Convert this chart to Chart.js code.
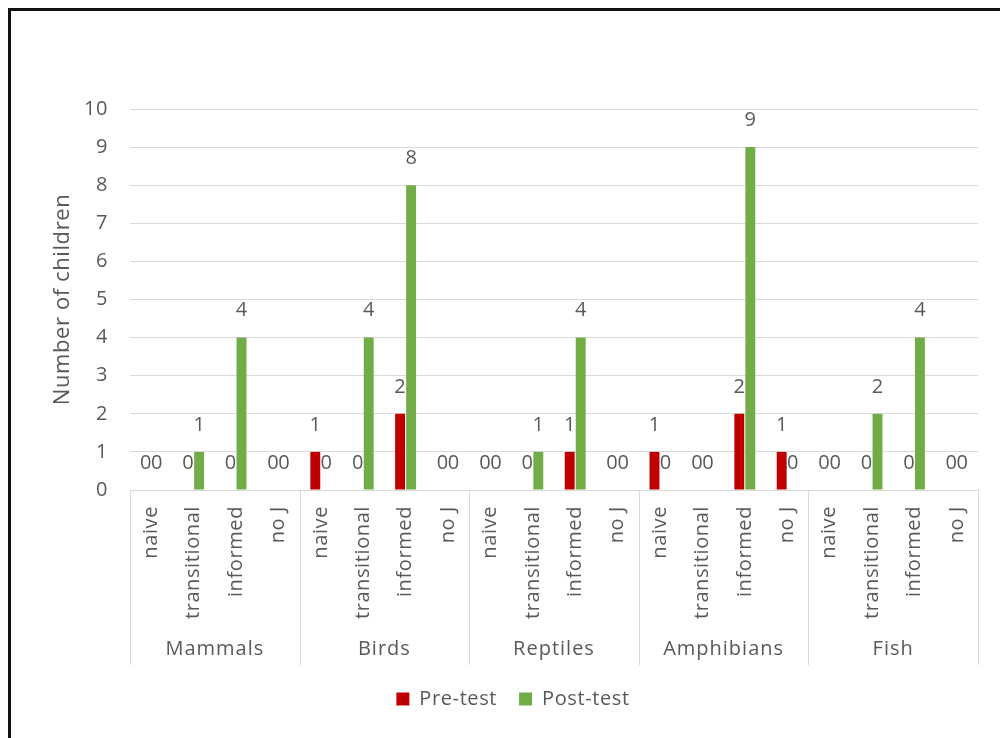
<!DOCTYPE html>
<html>
<head>
<meta charset="utf-8">
<script src="https://cdn.jsdelivr.net/npm/chart.js@4.4.1/dist/chart.umd.min.js"></script>
<style>
  html, body { margin: 0; padding: 0; background: #fff; }
  #wrap { position: relative; width: 1000px; height: 738px; overflow: hidden; }
  #c { position: absolute; left: 0; top: 0; }
  #frame { position: absolute; left: 8px; top: 8px; width: 1100px; height: 800px;
           border-top: 3px solid #111; border-left: 3px solid #111; pointer-events: none; }
</style>
</head>
<body>
<div id="wrap">
  <canvas id="c" width="1000" height="738"></canvas>
  <div id="frame"></div>
</div>
<script>
const groups = ['Mammals', 'Birds', 'Reptiles', 'Amphibians', 'Fish'];
const subcats = ['naive', 'transitional', 'informed', 'no J'];
const preTest  = [0, 0, 0, 0,  1, 0, 2, 0,  0, 0, 1, 0,  1, 0, 2, 1,  0, 0, 0, 0];
const postTest = [0, 1, 4, 0,  0, 4, 8, 0,  0, 1, 4, 0,  0, 0, 9, 0,  0, 2, 4, 0];
const yTicks = [0, 1, 2, 3, 4, 5, 6, 7, 8, 9, 10];

const labels = [];
groups.forEach(() => subcats.forEach(s => labels.push(s)));

const FONT = "'Open Sans', 'Noto Sans', sans-serif";
const TXT = '#595959';
const GRID = '#d9d9d9';
const SPACING = '0.6px';

const spacing = {
  id: 'spacing',
  beforeUpdate(chart) { chart.ctx.letterSpacing = SPACING; },
  beforeLayout(chart) { chart.ctx.letterSpacing = SPACING; },
  beforeDraw(chart) { chart.ctx.letterSpacing = SPACING; }
};

const dataLabels = {
  id: 'dataLabels',
  afterDatasetsDraw(chart) {
    const ctx = chart.ctx;
    ctx.save();
    ctx.letterSpacing = '0px';
    ctx.font = '20px ' + FONT;
    ctx.fillStyle = TXT;
    ctx.textAlign = 'center';
    ctx.textBaseline = 'middle';
    chart.data.datasets.forEach((ds, di) => {
      const meta = chart.getDatasetMeta(di);
      meta.data.forEach((bar, i) => {
        ctx.fillText(String(ds.data[i]), bar.x, bar.y - 27);
      });
    });
    ctx.restore();
  }
};

const groupAxis = {
  id: 'groupAxis',
  afterDraw(chart) {
    const ctx = chart.ctx;
    const x = chart.scales.x;
    const n = labels.length;
    const step = (x.right - x.left) / n;
    const top = chart.chartArea.bottom;
    const bottom = 665;
    ctx.save();
    ctx.strokeStyle = GRID;
    ctx.lineWidth = 1;
    for (let g = 0; g <= groups.length; g++) {
      const px = Math.round(x.left + step * subcats.length * g) + 0.5;
      ctx.beginPath();
      ctx.moveTo(px, top);
      ctx.lineTo(px, bottom);
      ctx.stroke();
    }
    ctx.letterSpacing = '1px';
    ctx.font = '20px ' + FONT;
    ctx.fillStyle = TXT;
    ctx.textAlign = 'center';
    ctx.textBaseline = 'middle';
    groups.forEach((name, g) => {
      const cx = x.left + step * subcats.length * (g + 0.5);
      ctx.fillText(name, cx, 649);
    });
    ctx.restore();
  }
};

new Chart(document.getElementById('c'), {
  type: 'bar',
  data: {
    labels: labels,
    datasets: [
      { label: 'Pre-test', data: preTest, backgroundColor: '#C00000', borderWidth: 0 },
      { label: 'Post-test', data: postTest, backgroundColor: '#70AD47', borderWidth: 0 }
    ]
  },
  options: {
    responsive: false,
    animation: false,
    devicePixelRatio: 1,
    layout: { padding: { top: 109, right: 22, bottom: 19, left: 48 } },
    datasets: { bar: { categoryPercentage: 0.52, barPercentage: 0.9 } },
    plugins: {
      tooltip: { enabled: false },
      legend: {
        position: 'bottom',
        labels: {
          boxWidth: 13, boxHeight: 13, padding: 22,
          color: TXT, font: { family: FONT, size: 20 }
        }
      }
    },
    scales: {
      x: {
        grid: { display: false, drawTicks: false },
        border: { display: true, color: GRID, width: 1 },
        ticks: {
          autoSkip: false, maxRotation: 90, minRotation: 90, padding: 16,
          color: TXT, font: { family: FONT, size: 20 }
        },
        afterFit(scale) { scale.height = 177; }
      },
      y: {
        min: 0, max: 10,
        afterBuildTicks(scale) { scale.ticks = yTicks.map(v => ({ value: v })); },
        grid: { color: GRID, drawTicks: false },
        border: { display: false },
        ticks: { padding: 22, color: TXT, font: { family: FONT, size: 20 } },
        title: {
          display: true, text: 'Number of children', color: TXT,
          font: { family: FONT, size: 22 }, padding: { top: 2, bottom: 0 }
        },
        afterFit(scale) { scale.width = 82; }
      }
    }
  },
  plugins: [spacing, dataLabels, groupAxis]
});
</script>
</body>
</html>
